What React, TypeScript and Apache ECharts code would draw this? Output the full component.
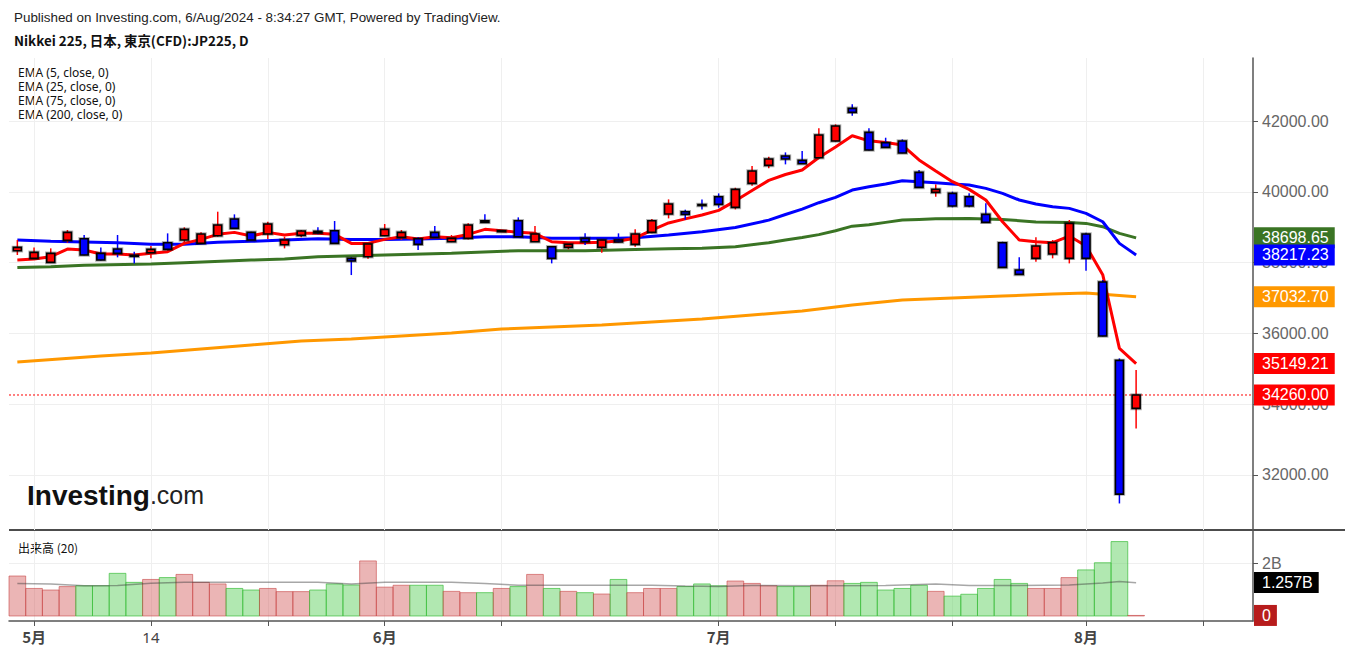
import React, { useEffect, useRef } from 'react';
import * as echarts from 'echarts';

// trading days (index 0 = 2024-04-30)
const dates = [
  '04-30', '05-01', '05-02', '05-07', '05-08', '05-09', '05-10', '05-13', '05-14', '05-15', '05-16', '05-17',
  '05-20', '05-21', '05-22', '05-23', '05-24', '05-27', '05-28', '05-29', '05-30', '05-31',
  '06-03', '06-04', '06-05', '06-06', '06-07', '06-10', '06-11', '06-12', '06-13', '06-14', '06-17', '06-18',
  '06-19', '06-20', '06-21', '06-24', '06-25', '06-26', '06-27', '06-28',
  '07-01', '07-02', '07-03', '07-04', '07-05', '07-08', '07-09', '07-10', '07-11', '07-12', '07-16', '07-17',
  '07-18', '07-19', '07-22', '07-23', '07-24', '07-25', '07-26', '07-29', '07-30', '07-31',
  '08-01', '08-02', '08-05', '08-06',
];

const openP = [
  38336, 38120, 38006, 38628, 38675, 38261, 38383, 38204, 38280, 38562, 38638, 38543,
  38760, 39231, 38854, 38807, 38506, 38769, 38882, 38901, 38120, 38167,
  38760, 38713, 38675, 38854, 38590, 38685, 39184, 38882, 39184, 38590, 38449, 38430,
  38685, 38430, 38638, 38515, 38854, 39371, 39437, 39640,
  39861, 39560, 40238, 40746, 41010, 40888, 40963, 41434, 42357, 41679, 41387, 41434,
  40549, 39983, 39956, 39862, 39363, 38562, 37790, 38120, 38242, 38120,
  38807, 37451, 35237, 33881,
];
const closeP = [
  38430, 38289, 38261, 38854, 38214, 38072, 38261, 38176, 38374, 38374, 38939, 38807,
  39062, 38967, 38638, 39090, 38638, 38892, 38835, 38543, 38044, 38525,
  38939, 38854, 38515, 38713, 38685, 39062, 39137, 38901, 38732, 38807, 38120, 38515,
  38590, 38638, 38581, 38807, 39184, 39654, 39362, 39620,
  39644, 40068, 40586, 40925, 40925, 40794, 41604, 41858, 42244, 41180, 41255, 41095,
  40125, 40068, 39598, 39598, 39137, 37865, 37667, 38468, 38562, 39109,
  38120, 35925, 31460, 34260,
];
const lowP = [
  38214, 38091, 37995, 38562, 38205, 38060, 38148, 37978, 38120, 38355, 38562, 38535,
  38732, 38960, 38630, 38666, 38402, 38713, 38798, 38535, 37648, 38110,
  38750, 38638, 38355, 38705, 38580, 38656, 39127, 38870, 38722, 38580, 37978, 38374,
  38496, 38280, 38570, 38449, 38826, 39249, 39215, 39503,
  39550, 39503, 40172, 40662, 40775, 40790, 40960, 41415, 42150, 41170, 41245, 41090,
  40115, 39861, 39561, 39561, 39130, 37860, 37660, 38025, 38120, 37978,
  37771, 35915, 31196, 33315,
];
const highP = [
  38638, 38430, 38402, 38920, 38779, 38430, 38779, 38308, 38468, 38826, 38996, 38854,
  39438, 39363, 38870, 39156, 38732, 38920, 38996, 39175, 38148, 38543,
  39090, 38920, 38713, 39033, 38779, 39109, 39363, 38920, 39278, 39033, 38460, 38525,
  38826, 38650, 38826, 38939, 39231, 39786, 39495, 39786,
  39955, 40115, 40728, 40991, 41114, 41151, 41792, 41905, 42470, 41792, 41528, 41481,
  40615, 40210, 40004, 39956, 39674, 38590, 38148, 38713, 38638, 39203,
  38845, 37507, 35294, 34964,
];

// volume in billions
const volume = [
  1.51, 1.04, 0.98, 1.11, 1.14, 1.14, 1.61, 1.27, 1.38, 1.45, 1.57, 1.27,
  1.21, 1.04, 0.98, 1.04, 0.92, 0.92, 0.98, 1.21, 1.17, 2.08,
  1.09, 1.16, 1.16, 1.16, 0.93, 0.88, 0.88, 1.04, 1.11, 1.57, 1.04, 0.93,
  0.88, 0.83, 1.38, 0.88, 1.04, 1.04, 1.11, 1.21,
  1.14, 1.32, 1.23, 1.14, 1.11, 1.11, 1.16, 1.33, 1.23, 1.27, 0.98, 1.04,
  1.16, 0.93, 0.75, 0.82, 1.04, 1.38, 1.23, 1.04, 1.04, 1.45,
  1.74, 2.01, 2.81, 0.02,
];

// volume 20-period average [index, value]
const volMA = [
  [0, 1.23], [2, 1.21], [4, 1.14], [6, 1.15], [8, 1.24], [10, 1.27], [14, 1.27], [18, 1.27],
  [20, 1.21], [22, 1.27], [26, 1.27], [28, 1.23], [30, 1.16], [34, 1.16], [38, 1.16], [40, 1.13],
  [42, 1.11], [44, 1.15], [48, 1.14], [52, 1.15], [55, 1.21], [57, 1.15], [60, 1.15], [63, 1.17],
  [65, 1.25], [66, 1.3], [67, 1.257],
];

// EMA lines [index, value]
const ema5 = [
  [0, 38072], [1, 38101], [2, 38167], [3, 38383], [4, 38355], [5, 38242], [6, 38242], [7, 38214],
  [8, 38261], [9, 38308], [10, 38543], [11, 38656], [12, 38798], [13, 38854], [14, 38751], [15, 38854],
  [16, 38779], [17, 38826], [18, 38826], [19, 38798], [20, 38543], [21, 38543], [22, 38656], [23, 38732],
  [24, 38666], [25, 38732], [26, 38703], [27, 38798], [28, 38939], [29, 38901], [30, 38854], [31, 38826],
  [32, 38590], [33, 38562], [34, 38562], [35, 38572], [36, 38609], [37, 38690], [38, 38920], [39, 39120],
  [40, 39235], [41, 39344], [42, 39475], [43, 39745], [44, 40035], [45, 40323], [46, 40488], [47, 40614],
  [48, 40968], [49, 41265], [50, 41585], [51, 41440], [52, 41390], [53, 41320], [54, 40900], [55, 40590],
  [56, 40286], [57, 40069], [58, 39768], [59, 39155], [60, 38640], [61, 38590], [62, 38562], [63, 38750],
  [64, 38470], [65, 37660], [66, 35576], [67, 35149.21],
];
const ema25 = [
  [0, 38638], [2, 38600], [4, 38581], [6, 38562], [8, 38515], [10, 38515], [12, 38572], [14, 38600],
  [16, 38638], [18, 38675], [20, 38656], [22, 38656], [24, 38666], [26, 38685], [28, 38732], [30, 38732],
  [32, 38685], [34, 38685], [36, 38685], [37, 38700], [39, 38779], [41, 38873], [43, 38990], [45, 39200],
  [46, 39360], [47, 39510], [48, 39692], [49, 39843], [50, 40050], [51, 40144], [52, 40220], [53, 40310],
  [54, 40286], [55, 40257], [56, 40220], [57, 40191], [58, 40097], [59, 39956], [60, 39768], [61, 39654],
  [62, 39579], [63, 39532], [64, 39391], [65, 39155], [66, 38543], [67, 38217.23],
];
const ema75 = [
  [0, 37865], [2, 37884], [4, 37922], [8, 37959], [10, 37997], [14, 38072], [16, 38101], [18, 38167],
  [22, 38214], [26, 38261], [30, 38336], [34, 38336], [37, 38370], [39, 38390], [41, 38402], [43, 38449],
  [45, 38560], [46, 38640], [47, 38710], [48, 38790], [49, 38900], [50, 39030], [51, 39070], [52, 39136],
  [53, 39202], [54, 39221], [55, 39240], [57, 39249], [59, 39221], [61, 39146], [63, 39136], [64, 39108],
  [65, 39014], [66, 38826], [67, 38698.65],
];
const ema200 = [
  [0, 35192], [5, 35362], [8, 35446], [11, 35559], [14, 35672], [17, 35785], [20, 35842], [23, 35927],
  [26, 36011], [29, 36124], [32, 36181], [35, 36237], [38, 36322], [41, 36407], [44, 36520], [47, 36633],
  [50, 36802], [53, 36944], [56, 37000], [59, 37056], [62, 37113], [64, 37141], [67, 37032.7],
];

const xTickIdx = [1, 8, 15, 22, 29, 42, 49, 56, 64, 71];
const xLabelIdx = [1, 8, 22, 42, 64];
const xLabelText = ['5月', '14', '6月', '7月', '8月'];
const priceTicks = [32000, 34000, 36000, 38000, 40000, 42000];
const volTicks = [2];
const xMin = -0.5;
const xMax = 74;

const emaNames = ['EMA (5, close, 0)', 'EMA (25, close, 0)', 'EMA (75, close, 0)', 'EMA (200, close, 0)'];
const emaColors = ['#ff0000', '#0000ff', '#3a7424', '#ff9800'];

const LABEL_FONT = '"Liberation Sans", Arial, sans-serif';
const HIDDEN_LINE = { color: 'rgba(255,255,255,0)', width: 0, opacity: 1 };

function endLabel(bg: string, text: string) {
  return {
    show: true,
    position: 'end',
    distance: 1,
    formatter: () => text,
    color: '#fff',
    opacity: 1,
    backgroundColor: bg,
    fontFamily: LABEL_FONT,
    fontSize: 16,
    padding: [3, 6, 2, 8],
  };
}

export default function App() {
  const ref = useRef<HTMLDivElement>(null);
  useEffect(() => {
    if (!ref.current) return;
    const chart = echarts.init(ref.current, undefined, { renderer: 'svg' });
    const candleData = dates.map((_, i) => [i, openP[i], closeP[i], lowP[i], highP[i]]);
    const volData = dates.map((_, i) => [i, volume[i], closeP[i] >= openP[i] ? 1 : 0]);
    const emaSets = [ema5, ema25, ema75, ema200];
    const gridLine = { show: true, lineStyle: { color: '#efefef', width: 1 } };
    const lastClose = closeP[closeP.length - 1];
    const lastVol = volume[volume.length - 1];
    const lastVolMA = volMA[volMA.length - 1][1];

    const lineSeries: any[] = [3, 2, 1, 0].map((k) => {
      const data = emaSets[k];
      const last = data[data.length - 1][1];
      return {
        type: 'line',
        name: emaNames[k],
        xAxisIndex: 0,
        yAxisIndex: 0,
        data,
        showSymbol: false,
        symbol: 'none',
        lineStyle: { color: emaColors[k], width: 3 },
        z: 2 + (3 - k) * 0.1,
        markLine: {
          silent: true,
          symbol: ['none', 'none'],
          animation: false,
          lineStyle: HIDDEN_LINE,
          data: [{ yAxis: last, lineStyle: HIDDEN_LINE, label: endLabel(emaColors[k], last.toFixed(2)) }],
        },
      };
    });

    chart.setOption({
      animation: false,
      backgroundColor: '#ffffff',
      grid: [
        { left: 9, top: 58, width: 1244, height: 472, outerBoundsMode: 'none' },
        { left: 9, top: 531, width: 1244, height: 90, outerBoundsMode: 'none' },
      ],
      xAxis: [
        {
          type: 'value', gridIndex: 0, min: xMin, max: xMax,
          axisLine: { show: false, onZero: false },
          axisTick: { show: false, customValues: xTickIdx },
          axisLabel: { show: false, customValues: xTickIdx },
          splitLine: gridLine,
        },
        {
          type: 'value', gridIndex: 1, min: xMin, max: xMax,
          axisLine: { show: true, onZero: false, lineStyle: { color: '#555', width: 1.5 } },
          axisTick: { show: true, customValues: xTickIdx, length: 5, lineStyle: { color: '#555' } },
          axisLabel: {
            show: true,
            customValues: xLabelIdx,
            margin: 8,
            formatter: (v: number) => {
              const k = xLabelIdx.indexOf(Math.round(v));
              const t = k >= 0 ? xLabelText[k] : '';
              return t.indexOf('月') >= 0 ? `{b|${t}}` : `{n|${t}}`;
            },
            rich: {
              b: { fontWeight: 'bold', fontSize: 15, color: '#444', fontFamily: '"Noto Sans CJK JP", "Noto Sans", sans-serif' },
              n: { fontSize: 15, color: '#444', fontFamily: '"Noto Sans", sans-serif' },
            },
          },
          splitLine: gridLine,
        },
      ],
      yAxis: [
        {
          type: 'value', gridIndex: 0, position: 'right', min: 30446, max: 43780,
          axisLine: { show: true, onZero: false, lineStyle: { color: '#555', width: 1.5 } },
          axisTick: { show: true, customValues: priceTicks, length: 5, lineStyle: { color: '#555' } },
          axisLabel: {
            show: true, customValues: priceTicks, margin: 9,
            formatter: (v: number) => v.toFixed(2),
            color: '#666', fontSize: 16, fontFamily: LABEL_FONT,
          },
          splitLine: gridLine,
        },
        {
          type: 'value', gridIndex: 1, position: 'right', min: -0.19, max: 3.21,
          axisLine: { show: true, onZero: false, lineStyle: { color: '#555', width: 1.5 } },
          axisTick: { show: true, customValues: volTicks, length: 5, lineStyle: { color: '#555' } },
          axisLabel: {
            show: true, customValues: volTicks, margin: 9,
            formatter: (v: number) => `${v}B`,
            color: '#666', fontSize: 16, fontFamily: LABEL_FONT,
          },
          splitLine: gridLine,
        },
      ],
      series: [
        {
          type: 'line',
          name: 'last price',
          xAxisIndex: 0,
          yAxisIndex: 0,
          data: [[xMin, lastClose], [xMax, lastClose]],
          showSymbol: false,
          symbol: 'none',
          lineStyle: { color: '#ff0000', width: 1, type: [2, 2] },
          z: 1,
          markLine: {
            silent: true,
            symbol: ['none', 'none'],
            animation: false,
            lineStyle: HIDDEN_LINE,
            data: [{ yAxis: lastClose, lineStyle: HIDDEN_LINE, label: endLabel('#ff0000', lastClose.toFixed(2)) }],
          },
        },
        ...lineSeries,
        {
          type: 'custom',
          name: 'candles',
          xAxisIndex: 0,
          yAxisIndex: 0,
          data: candleData,
          encode: { x: 0, y: [1, 2, 3, 4] },
          z: 5,
          renderItem: (params: any, api: any) => {
            const i = api.value(0);
            const o = api.value(1), c = api.value(2), l = api.value(3), h = api.value(4);
            const pO = api.coord([i, o]);
            const pC = api.coord([i, c]);
            const pL = api.coord([i, l]);
            const pH = api.coord([i, h]);
            const up = c >= o;
            const col = up ? '#ff0000' : '#0000ff';
            const bw = 8;
            const top = Math.min(pO[1], pC[1]);
            const hgt = Math.max(Math.abs(pO[1] - pC[1]), 1);
            const shape = { x: pO[0] - bw / 2, y: top, width: bw, height: hgt };
            return {
              type: 'group',
              children: [
                { type: 'line', shape: { x1: pH[0], y1: pH[1], x2: pL[0], y2: pL[1] }, style: { stroke: col, lineWidth: 1.5 } },
                { type: 'rect', shape, style: { fill: 'none', stroke: 'rgba(0,0,0,0.3)', lineWidth: 3.5 } },
                { type: 'rect', shape, style: { fill: col, stroke: '#000', lineWidth: 1.6 } },
              ],
            };
          },
        },
        {
          type: 'custom',
          name: 'volume',
          xAxisIndex: 1,
          yAxisIndex: 1,
          data: volData,
          encode: { x: 0, y: 1 },
          z: 2,
          renderItem: (params: any, api: any) => {
            const i = api.value(0);
            const v = api.value(1);
            const up = api.value(2) === 1;
            const p1 = api.coord([i - 0.5, v]);
            const p2 = api.coord([i + 0.5, 0]);
            return {
              type: 'rect',
              shape: { x: p1[0], y: p1[1], width: p2[0] - p1[0], height: p2[1] - p1[1] },
              style: up
                ? { fill: 'rgba(210,90,90,0.45)', stroke: 'rgba(200,70,70,0.6)', lineWidth: 1 }
                : { fill: 'rgba(100,210,100,0.5)', stroke: 'rgba(60,190,60,0.7)', lineWidth: 1 },
            };
          },
        },
        {
          type: 'line',
          name: '出来高 MA',
          xAxisIndex: 1,
          yAxisIndex: 1,
          data: volMA,
          showSymbol: false,
          symbol: 'none',
          lineStyle: { color: 'rgba(60,60,60,0.45)', width: 1.5 },
          z: 3,
          markLine: {
            silent: true,
            symbol: ['none', 'none'],
            animation: false,
            lineStyle: HIDDEN_LINE,
            data: [
              { yAxis: lastVolMA, lineStyle: HIDDEN_LINE, label: endLabel('#000000', `${lastVolMA.toFixed(3)}B`) },
              { yAxis: lastVol, lineStyle: HIDDEN_LINE, label: endLabel('#b71c1c', `${Math.round(lastVol)}`) },
            ],
          },
        },
      ],
      graphic: [
        {
          type: 'text', x: 14, y: 17,
          style: { text: 'Published on Investing.com, 6/Aug/2024 - 8:34:27 GMT, Powered by TradingView.', font: '13.4px "Liberation Sans", Arial, sans-serif', fill: '#222', verticalAlign: 'middle' },
        },
        {
          type: 'text', x: 14, y: 40,
          style: { text: 'Nikkei 225, 日本, 東京(CFD):JP225, D', font: 'bold 13.4px "Noto Sans CJK JP", "Noto Sans", sans-serif', fill: '#111', verticalAlign: 'middle' },
        },
        ...emaNames.map((t, k) => ({
          type: 'text', x: 18, y: 72 + k * 14,
          style: { text: t, font: '12px "Noto Sans", sans-serif', fill: '#111', verticalAlign: 'middle' },
        })),
        {
          type: 'text', x: 18, y: 547,
          style: { text: '出来高 (20)', font: '12px "Noto Sans CJK JP", "Noto Sans", sans-serif', fill: '#111', verticalAlign: 'middle' },
        },
        {
          type: 'text', x: 27, y: 495,
          style: {
            text: '{a|Investing}{b|.com}',
            verticalAlign: 'middle',
            rich: {
              a: { fontFamily: 'Arial, "Liberation Sans", sans-serif', fontWeight: 'bold', fontSize: 28, fill: '#111', color: '#111' },
              b: { fontFamily: 'Arial, "Liberation Sans", sans-serif', fontSize: 25, fill: '#222', color: '#222' },
            },
          },
        },
        {
          type: 'line', shape: { x1: 9, y1: 530, x2: 1345, y2: 530 },
          style: { stroke: '#111', lineWidth: 1.5 },
        },
      ],
    });
    return () => chart.dispose();
  }, []);
  return <div ref={ref} style={{ position: 'absolute', left: 0, top: 0, width: 1345, height: 655 }} />;
}
